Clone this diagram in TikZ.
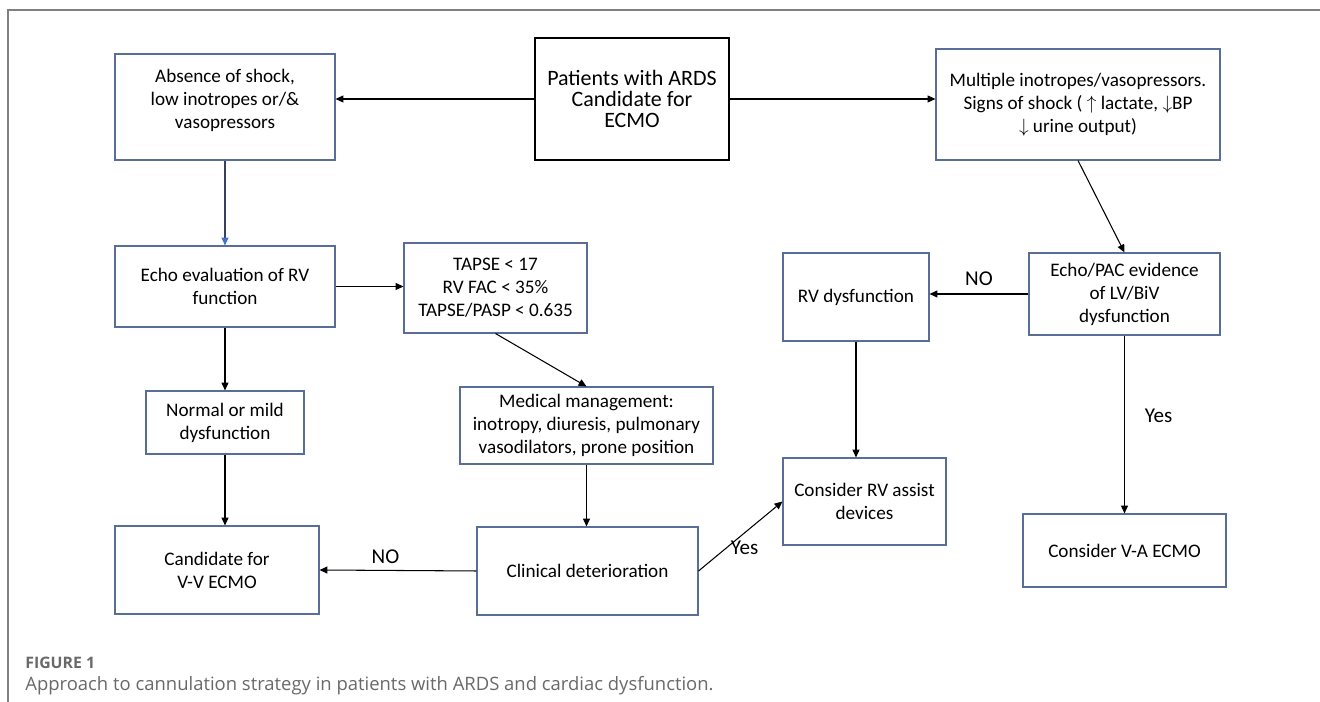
\documentclass[tikz,border=0pt]{standalone}
\usepackage{fontspec}
\setmainfont{Carlito}
\newfontfamily\capfont{Open Sans}
\usetikzlibrary{arrows.meta}

\definecolor{boxline}{RGB}{88,110,150}
\definecolor{tipblue}{RGB}{68,114,196}
\definecolor{linkblue}{RGB}{55,65,95}
\definecolor{framegrey}{RGB}{128,128,128}
\definecolor{capgrey}{RGB}{105,105,105}

\begin{document}
\begin{tikzpicture}[
    >={Triangle[length=4.5pt,width=4pt]},
    every node/.style={font=\fontsize{10.9}{13.1}\selectfont},
    box/.style={draw=boxline, line width=0.6pt, rectangle, align=center, inner sep=1pt},
    startbox/.style={draw=black, line width=1pt, rectangle, align=center, inner sep=1pt,
        font=\fontsize{12.5}{12.2}\selectfont},
    link/.style={->, line width=0.6pt},
    tag/.style={font=\fontsize{12}{14}\selectfont}
]
\useasboundingbox (0,0) rectangle (26.4,14.04);

% Frame
\draw[framegrey, line width=0.8pt] (0.16,0) -- (0.16,13.84) -- (26.4,13.84);

% Top row
\node[startbox, minimum width=3.88cm, minimum height=2.44cm] (patients) at (12.64,12.06)
    {Patients with ARDS\\ Candidate for\\ ECMO};
\node[box, minimum width=4.40cm, minimum height=2.12cm, text depth=0.32cm] (absence) at (4.50,11.90)
    {Absence of shock,\\ low inotropes or/\&\\ vasopressors};
\node[box, minimum width=5.68cm, minimum height=2.22cm] (multiple) at (21.56,11.95)
    {Multiple inotropes/vasopressors.\\ Signs of shock ( $\uparrow$ lactate, $\downarrow$BP\\ $\downarrow$ urine output)};

% Middle row
\node[box, minimum width=4.40cm, minimum height=1.62cm] (echorv) at (4.50,8.31)
    {Echo evaluation of RV\\ function};
\node[box, minimum width=3.66cm, minimum height=1.80cm] (tapse) at (9.91,8.28)
    {TAPSE < 17\\ RV FAC < 35\%\\ TAPSE/PASP < 0.635};
\node[box, minimum width=2.92cm, minimum height=1.76cm] (rvdys) at (17.12,8.10)
    {RV dysfunction};
\node[box, minimum width=3.82cm, minimum height=1.64cm] (echopac) at (22.49,8.16)
    {Echo/PAC evidence\\ of LV/BiV\\ dysfunction};

\node[box, minimum width=3.16cm, minimum height=1.26cm] (normal) at (4.50,5.59)
    {Normal or mild\\ dysfunction};
\node[box, minimum width=5.06cm, minimum height=1.54cm] (medical) at (11.73,5.53)
    {Medical management:\\ inotropy, diuresis, pulmonary\\ vasodilators, prone position};
\node[box, minimum width=3.26cm, minimum height=1.74cm] (rvassist) at (17.29,4.01)
    {Consider RV assist\\ devices};

% Bottom row
\node[box, minimum width=4.08cm, minimum height=1.76cm] (vvecmo) at (4.34,2.64)
    {Candidate for\\ V-V ECMO};
\node[box, minimum width=4.42cm, minimum height=1.76cm] (clinical) at (11.75,2.62)
    {Clinical deterioration};
\node[box, minimum width=4.06cm, minimum height=1.46cm] (vaecmo) at (22.49,3.03)
    {Consider V-A ECMO};

% Connectors
\draw[link] (patients.west) -- (patients.west -| absence.east);
\draw[link] (patients.east) -- (patients.east -| multiple.west);
\draw[->, line width=0.6pt, linkblue, >={Triangle[length=4.5pt,width=4pt,color=tipblue]}]
    (absence.south) -- (echorv.north);
\draw[link] (multiple.south) -- (echopac.north);
\draw[link] (echorv.east) -- (echorv.east -| tapse.west);
\draw[link] (tapse.south) -- (medical.north);
\draw[link] (echorv.south) -- (normal.north);
\draw[link] (normal.south) -- (normal.south |- vvecmo.north);
\draw[link] (medical.south) -- (medical.south |- clinical.north);
\draw[link] (clinical.west) -- node[tag, above, pos=0.58] {NO} (vvecmo.east);
\draw[link] (echopac.west) -- node[tag, above=1pt] {NO} (echopac.west -| rvdys.east);
\draw[link] (rvdys.south) -- (rvdys.south |- rvassist.north);
\draw[link] (echopac.south) -- node[tag, right=8pt, pos=0.45] {Yes} (vaecmo.north);
\draw[link] (clinical.east) -- node[tag, below=1pt, pos=0.55] {Yes} (rvassist.west);

% Caption
\node[anchor=west, inner sep=0pt, capgrey, font=\capfont\bfseries\fontsize{9}{11}\selectfont] (figno) at (0.50,0.78) {FIGURE 1};
\node[anchor=west, inner sep=0pt, capgrey, font=\capfont\fontsize{10.5}{12.5}\selectfont] (figcap) at (0.50,0.32)
    {Approach to cannulation strategy in patients with ARDS and cardiac dysfunction.};

\end{tikzpicture}
\end{document}
